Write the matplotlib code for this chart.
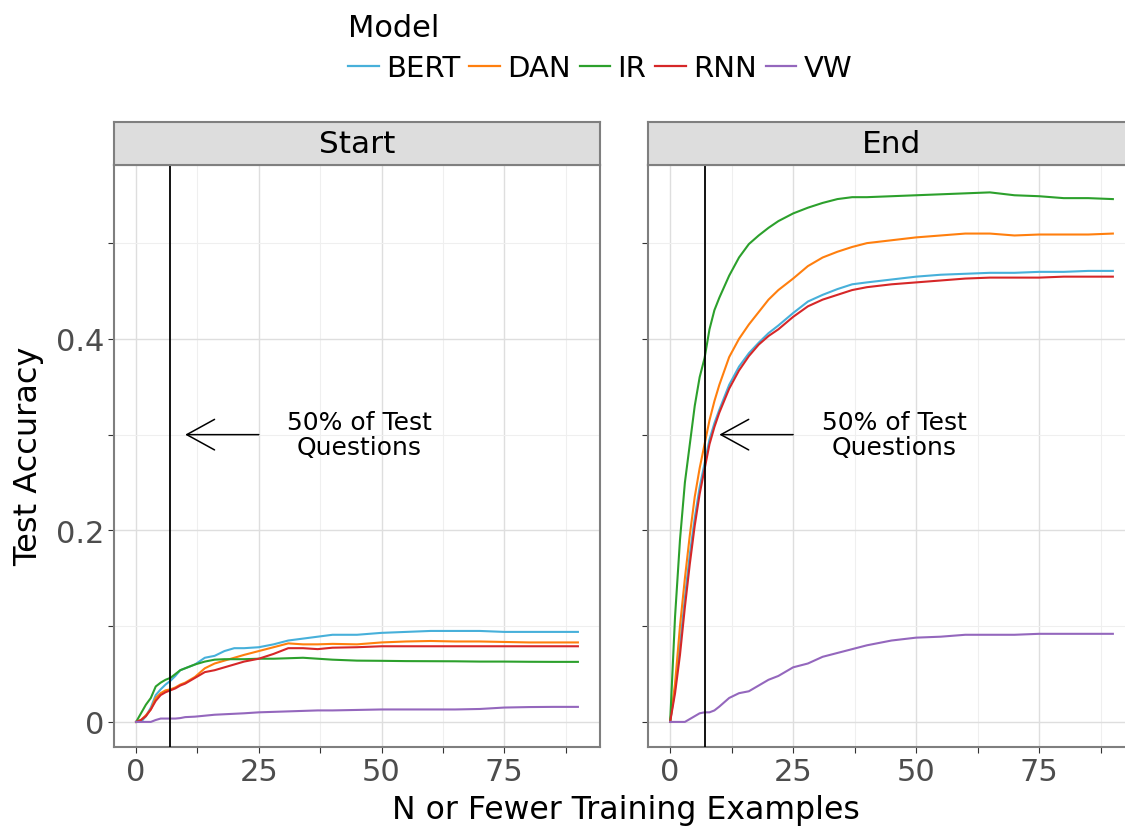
import numpy as np
import matplotlib
matplotlib.use("Agg")
import matplotlib.pyplot as plt
from matplotlib.lines import Line2D
from matplotlib.ticker import FixedLocator

# values, same x grid for all series
x = [0, 1, 2, 3, 4, 5, 6, 7, 8, 9, 10, 12, 14, 16, 18, 20, 22, 25, 28, 31,
     34, 37, 40, 45, 50, 55, 60, 65, 70, 75, 80, 85, 90]

bert_start = [0, 0.0, 0.006, 0.015, 0.028, 0.034, 0.039, 0.043, 0.048, 0.054, 0.056,
              0.060, 0.067, 0.069, 0.074, 0.077, 0.077, 0.078, 0.081, 0.085, 0.087,
              0.089, 0.091, 0.091, 0.093, 0.094, 0.095, 0.095, 0.095, 0.094, 0.094,
              0.094, 0.094]
dan_start = [0, 0.002, 0.007, 0.013, 0.025, 0.030, 0.033, 0.034, 0.036, 0.039, 0.041,
             0.047, 0.056, 0.061, 0.064, 0.067, 0.070, 0.074, 0.078, 0.082, 0.081,
             0.081, 0.0815, 0.081, 0.083, 0.084, 0.0845, 0.084, 0.084, 0.0835, 0.083,
             0.083, 0.083]
ir_start = [0, 0.009, 0.018, 0.025, 0.037, 0.041, 0.044, 0.046, 0.050, 0.054, 0.056,
            0.060, 0.063, 0.065, 0.0655, 0.0655, 0.0655, 0.066, 0.066, 0.0665, 0.067,
            0.066, 0.065, 0.064, 0.0638, 0.0635, 0.0634, 0.0633, 0.063, 0.063, 0.0628,
            0.0627, 0.0627]
rnn_start = [0, 0.002, 0.006, 0.013, 0.022, 0.028, 0.031, 0.033, 0.035, 0.038, 0.040,
             0.046, 0.052, 0.054, 0.057, 0.060, 0.063, 0.066, 0.071, 0.077, 0.077,
             0.076, 0.0775, 0.078, 0.079, 0.079, 0.079, 0.079, 0.079, 0.079, 0.079,
             0.079, 0.079]
vw_start = [0, 0, 0, 0, 0.002, 0.0035, 0.0035, 0.0035, 0.0035, 0.004, 0.005,
            0.0055, 0.0065, 0.0075, 0.008, 0.0085, 0.009, 0.010, 0.0105, 0.011, 0.0115,
            0.012, 0.012, 0.0125, 0.013, 0.013, 0.013, 0.013, 0.0135, 0.015, 0.0155,
            0.0157, 0.0157]

bert_end = [0, 0.035, 0.08, 0.13, 0.175, 0.213, 0.245, 0.27, 0.295, 0.312, 0.326,
            0.352, 0.371, 0.385, 0.396, 0.406, 0.414, 0.427, 0.439, 0.446, 0.452,
            0.457, 0.459, 0.462, 0.465, 0.467, 0.468, 0.469, 0.469, 0.470, 0.470,
            0.471, 0.471]
dan_end = [0, 0.04, 0.10, 0.15, 0.195, 0.235, 0.265, 0.29, 0.315, 0.335, 0.352,
           0.381, 0.400, 0.415, 0.428, 0.441, 0.451, 0.463, 0.476, 0.485, 0.491,
           0.496, 0.500, 0.503, 0.506, 0.508, 0.510, 0.510, 0.508, 0.509, 0.509,
           0.509, 0.510]
ir_end = [0, 0.11, 0.19, 0.25, 0.29, 0.33, 0.36, 0.38, 0.41, 0.43, 0.443,
          0.466, 0.485, 0.499, 0.508, 0.516, 0.523, 0.531, 0.537, 0.542, 0.546,
          0.548, 0.548, 0.549, 0.550, 0.551, 0.552, 0.553, 0.550, 0.549, 0.547,
          0.547, 0.546]
rnn_end = [0, 0.03, 0.07, 0.12, 0.165, 0.205, 0.238, 0.264, 0.29, 0.308, 0.323,
           0.348, 0.367, 0.382, 0.394, 0.403, 0.41, 0.423, 0.434, 0.441, 0.446,
           0.451, 0.454, 0.457, 0.459, 0.461, 0.463, 0.464, 0.464, 0.464, 0.465,
           0.465, 0.465]
vw_end = [0, 0, 0, 0, 0.003, 0.006, 0.009, 0.010, 0.010, 0.012, 0.016,
          0.025, 0.030, 0.032, 0.038, 0.044, 0.048, 0.057, 0.061, 0.068, 0.072,
          0.076, 0.080, 0.085, 0.088, 0.089, 0.091, 0.091, 0.091, 0.092, 0.092,
          0.092, 0.092]

models = ["BERT", "DAN", "IR", "RNN", "VW"]
colors = ["#47b0da", "#ff7f0e", "#2ca02c", "#d62728", "#9467bd"]
panels = {"Start": [bert_start, dan_start, ir_start, rnn_start, vw_start],
          "End": [bert_end, dan_end, ir_end, rnn_end, vw_end]}
cutoff = 7

W, H = 1125, 829
fig = plt.figure(figsize=(W / 100, H / 100), dpi=100)


def px_box(x0, y0, x1, y1):
    return [x0 / W, 1 - y1 / H, (x1 - x0) / W, (y1 - y0) / H]


border = "#7f7f7f"
panel_x = {"Start": (114, 600), "End": (648, 1135)}

for i, (name, series) in enumerate(panels.items()):
    x0, x1 = panel_x[name]
    ax = fig.add_axes(px_box(x0, 166, x1, 748))
    for vals, c in zip(series, colors):
        ax.plot(x, vals, color=c, lw=1.5, zorder=3)
    ax.axvline(cutoff, color="black", lw=1.3, zorder=4)
    ax.annotate("", xy=(10, 0.3), xytext=(25, 0.3),
                arrowprops=dict(arrowstyle="->,head_length=2.0,head_width=1.1",
                                color="black", lw=1.1, shrinkA=0, shrinkB=0))
    ax.text(45.5, 0.30, "50% of Test\nQuestions", ha="center", va="center",
            fontsize=18, multialignment="center", linespacing=1.05)
    ax.set_xlim(-4.5, 94.5)
    ax.set_ylim(-0.0262, 0.5816)
    ax.xaxis.set_major_locator(FixedLocator([0, 25, 50, 75]))
    ax.xaxis.set_minor_locator(FixedLocator([12.5, 37.5, 62.5, 87.5]))
    ax.yaxis.set_major_locator(FixedLocator([0, 0.2, 0.4]))
    ax.yaxis.set_minor_locator(FixedLocator([0.1, 0.3, 0.5]))
    ax.grid(which="major", color="#dedede", lw=1.0, zorder=0)
    ax.grid(which="minor", color="#efefef", lw=0.8, zorder=0)
    ax.set_axisbelow(True)
    for s in ax.spines.values():
        s.set_color(border)
        s.set_linewidth(1.5)
    ax.tick_params(which="both", length=4, width=0.8, color="#333333",
                   labelsize=22, labelcolor="#4d4d4d", pad=3)
    ax.set_yticklabels(["0", "0.2", "0.4"] if i == 0 else [])

    strip = fig.add_axes(px_box(x0, 123, x1, 166))
    strip.set_facecolor("#dddddd")
    strip.set_xticks([])
    strip.set_yticks([])
    for s in strip.spines.values():
        s.set_color(border)
        s.set_linewidth(1.5)
    strip.text(0.5, 0.5, name, transform=strip.transAxes, ha="center",
               va="center", fontsize=22.5, color="black")

handles = [Line2D([], [], color=c, lw=1.6) for c in colors]
fig.legend(handles, models, loc="upper left", bbox_to_anchor=(328 / W, 1 + 6 / H),
           ncol=5, frameon=False, title="Model", fontsize=21, title_fontsize=22,
           handlelength=1.05, handletextpad=0.25, columnspacing=0.3,
           alignment="left", borderpad=0.2, labelspacing=0.4)

fig.text(29 / W, 1 - 456 / H, "Test Accuracy", rotation=90, ha="center",
         va="center", fontsize=23)
fig.text(626 / W, 1 - 811 / H, "N or Fewer Training Examples", ha="center",
         va="center", fontsize=22.7)

fig.savefig("out.png", dpi=100)
